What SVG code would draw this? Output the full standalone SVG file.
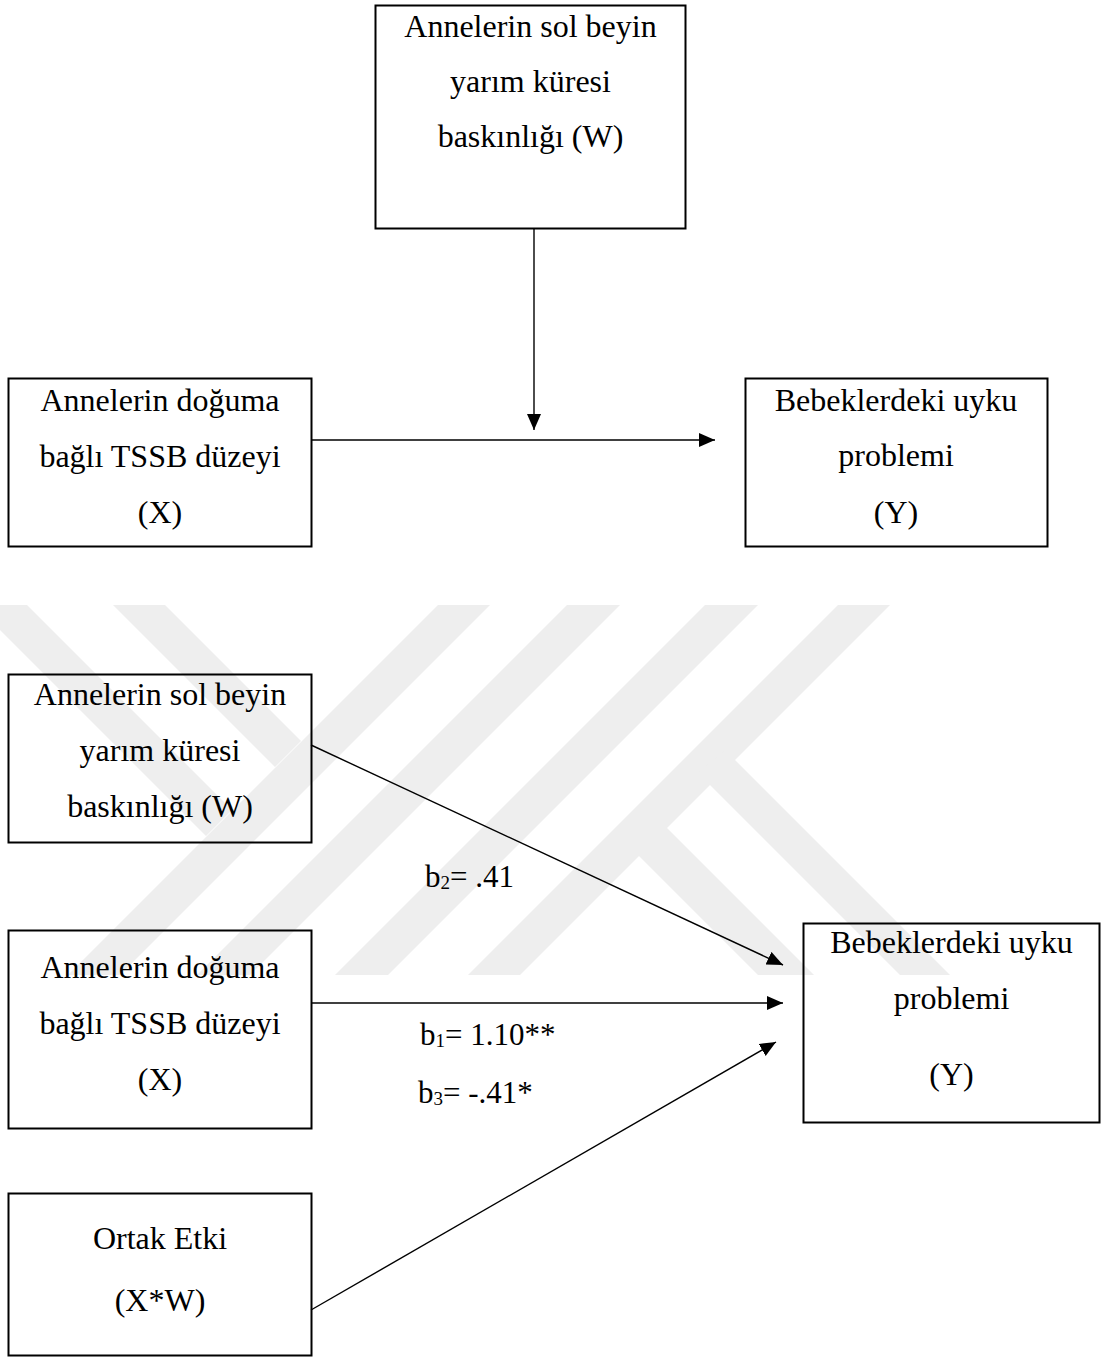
<svg xmlns="http://www.w3.org/2000/svg" width="1105" height="1363" viewBox="0 0 1105 1363">
<style>
.box{fill:none;stroke:#000;stroke-width:2}
.t{font-family:"Liberation Serif","Times New Roman",serif;font-size:32px;fill:#000;text-anchor:middle}
.lbl{font-family:"Liberation Serif","Times New Roman",serif;font-size:31px;fill:#000}
.sub{font-size:19px}
.wm{fill:#eeeeee}
.c{stroke:#000;stroke-width:1.4;fill:none}
</style>
<defs>
<marker id="ah" markerUnits="userSpaceOnUse" markerWidth="17" markerHeight="15" refX="16" refY="7" orient="auto">
<path d="M0,0 L16,7 L0,14 z" fill="#000"/>
</marker>
</defs>
<rect width="1105" height="1363" fill="#fff"/>
<g id="watermark">
<polygon class="wm" points="-25,605 27,605 232,810 206,836"/>
<polygon class="wm" points="113,605 165,605 301,741 275,767"/>
<polygon class="wm" points="438,605 490,605 120,975 68,975"/>
<polygon class="wm" points="567,605 620,605 250,975 197,975"/>
<polygon class="wm" points="705,605 758,605 388,975 335,975"/>
<polygon class="wm" points="838,605 890,605 520,975 468,975"/>
<polygon class="wm" points="725,750 950,975 900,975 698,773"/>
<polygon class="wm" points="654,815 814,975 758,975 626,843"/>
</g>
<g id="connectors">
<line class="c" x1="534" y1="229" x2="534" y2="430" marker-end="url(#ah)"/>
<line class="c" x1="311" y1="440" x2="715" y2="440" marker-end="url(#ah)"/>
<line class="c" x1="311" y1="745" x2="783" y2="965" marker-end="url(#ah)"/>
<line class="c" x1="311" y1="1003" x2="783" y2="1003" marker-end="url(#ah)"/>
<line class="c" x1="311" y1="1310" x2="776" y2="1042" marker-end="url(#ah)"/>
</g>
<g id="node-w-top">
<rect class="box" x="375.5" y="5.5" width="310" height="223"/>
<text class="t" x="530.5" y="37">Annelerin sol beyin</text>
<text class="t" x="530.5" y="92">yarım küresi</text>
<text class="t" x="530.5" y="147">baskınlığı (W)</text>
</g>
<g id="node-x-top">
<rect class="box" x="8.5" y="378.5" width="303" height="168"/>
<text class="t" x="160" y="411">Annelerin doğuma</text>
<text class="t" x="160" y="467">bağlı TSSB düzeyi</text>
<text class="t" x="160" y="523">(X)</text>
</g>
<g id="node-y-top">
<rect class="box" x="745.5" y="378.5" width="302" height="168"/>
<text class="t" x="896" y="411">Bebeklerdeki uyku</text>
<text class="t" x="896" y="466">problemi</text>
<text class="t" x="896" y="523">(Y)</text>
</g>
<g id="node-w-bottom">
<rect class="box" x="8.5" y="674.5" width="303" height="168"/>
<text class="t" x="160" y="705">Annelerin sol beyin</text>
<text class="t" x="160" y="761">yarım küresi</text>
<text class="t" x="160" y="817">baskınlığı (W)</text>
</g>
<g id="node-x-bottom">
<rect class="box" x="8.5" y="930.5" width="303" height="198"/>
<text class="t" x="160" y="978">Annelerin doğuma</text>
<text class="t" x="160" y="1034">bağlı TSSB düzeyi</text>
<text class="t" x="160" y="1090">(X)</text>
</g>
<g id="node-xw">
<rect class="box" x="8.5" y="1193.5" width="303" height="162"/>
<text class="t" x="160" y="1249">Ortak Etki</text>
<text class="t" x="160" y="1311">(X*W)</text>
</g>
<g id="node-y-bottom">
<rect class="box" x="803.5" y="923.5" width="296" height="199"/>
<text class="t" x="951.5" y="953">Bebeklerdeki uyku</text>
<text class="t" x="951.5" y="1009">problemi</text>
<text class="t" x="951.5" y="1085">(Y)</text>
</g>
<g id="labels">
<text class="lbl" x="425" y="887">b<tspan class="sub" dy="2">2</tspan><tspan dy="-2">= .41</tspan></text>
<text class="lbl" x="420" y="1045">b<tspan class="sub" dy="2">1</tspan><tspan dy="-2">= 1.10**</tspan></text>
<text class="lbl" x="418" y="1103">b<tspan class="sub" dy="2">3</tspan><tspan dy="-2">= -.41*</tspan></text>
</g>
</svg>
